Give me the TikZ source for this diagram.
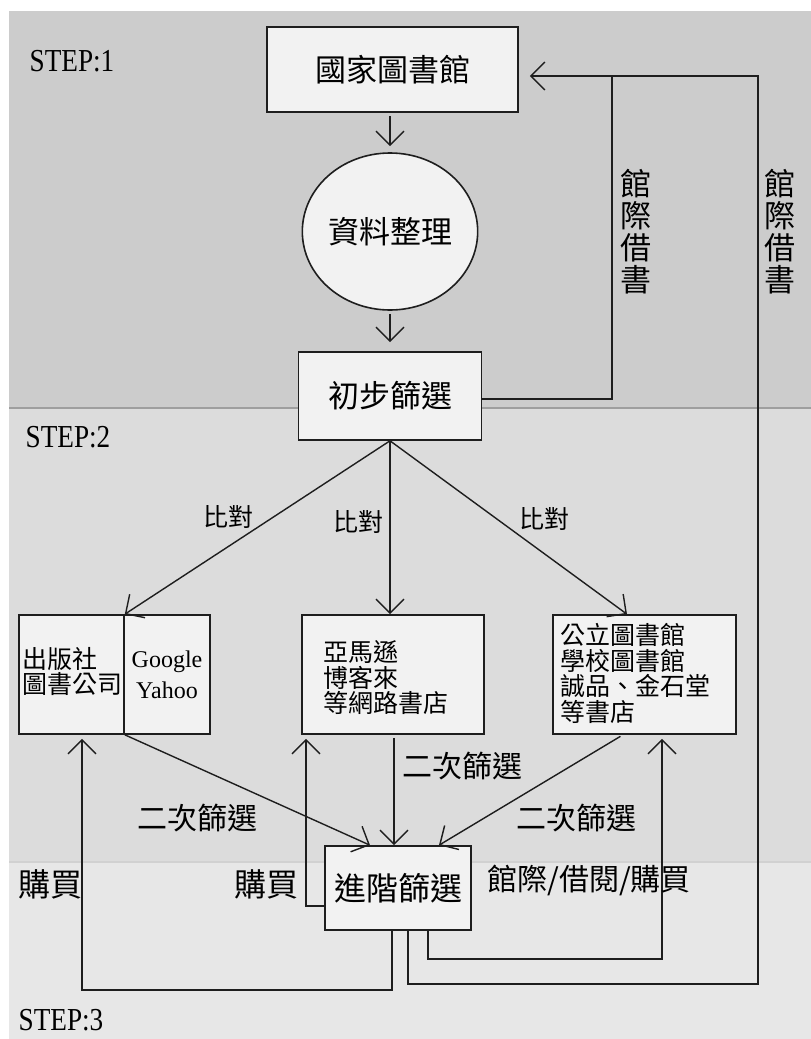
\documentclass[tikz,border=0pt]{standalone}
\usepackage{fontspec}
\setmainfont{Liberation Serif}
\newfontfamily\cjk{Noto Sans CJK TC}
\usetikzlibrary{arrows.meta,shapes.geometric}
\definecolor{bandA}{HTML}{CCCCCC}
\definecolor{bandB}{HTML}{DCDCDC}
\definecolor{bandC}{HTML}{E7E7E7}
\definecolor{boxfill}{HTML}{F2F2F2}
\definecolor{ink}{HTML}{1E1E1E}
\begin{document}
\begin{tikzpicture}[x=1pt,y=-1pt,
  box/.style={draw=ink, line width=1.6pt, fill=boxfill, inner sep=0pt},
  conn/.style={draw=ink, line width=1.4pt},
  arr/.style={conn, -{Straight Barb[length=14pt,width=28pt]}},
  big/.style={font=\cjk\fontsize{31}{32}\selectfont, inner sep=0pt},
  mid/.style={font=\cjk\fontsize{30}{32}\selectfont, inner sep=0pt},
  small/.style={font=\cjk\fontsize{25}{25.5}\selectfont, inner sep=0pt, align=left},
  steplabel/.style={font=\fontsize{32}{32}\selectfont, inner sep=0pt},
  latin/.style={font=\fontsize{24}{31}\selectfont, inner sep=0pt, align=center}]
\useasboundingbox (0,0) rectangle (811,1039);
\fill[white] (0,0) rectangle (811,1039);
\fill[bandA] (9,11) rectangle (811,408);
\fill[bandB] (9,408) rectangle (811,862);
\fill[bandC] (9,862) rectangle (811,1039);
\draw[line width=2pt, color=black!38] (9,408) -- (811,408);
\draw[line width=2pt, color=black!18] (9,862) -- (811,862);

% step labels
\node[steplabel] (s1) at (72,61) {\scalebox{0.85}[1]{STEP:1}};
\node[steplabel] (s2) at (68,437) {\scalebox{0.85}[1]{STEP:2}};
\node[steplabel] (s3) at (61,1020) {\scalebox{0.85}[1]{STEP:3}};

% step 1
\node[box, big, minimum width=251pt, minimum height=85pt] (nlib) at (392.5,69.5) {國家圖書館};
\node[box, big, ellipse, minimum width=172pt, minimum height=157pt] (data) at (390,231.5) {資料整理};
\node[box, big, minimum width=183pt, minimum height=88pt] (prim) at (390,396) {初步篩選};

\draw[arr, shorten <=3pt, shorten >=6pt] (data |- nlib.south) -- (data.north);
\draw[arr, shorten <=3pt, shorten >=9pt] (data.south) -- (data.south |- prim.north);

\coordinate (c1) at (612,76);
\coordinate (c2) at (758,76);
\coordinate (c3) at (758,984);
\draw[arr, shorten >=11pt] ([yshift=-3pt]prim.east) -| (c1) -- (c1 -| nlib.east);

\node[big, align=center] (ill1) at (636,232) {館\\際\\借\\書};
\node[big, align=center] (ill2) at (780,232) {館\\際\\借\\書};

% step 2 boxes
\node[box, minimum width=105pt, minimum height=119pt] (pubL) at (71.5,674.5) {};
\node[box, minimum width=86pt, minimum height=119pt] (pubR) at (167,674.5) {};
\node[box, minimum width=182pt, minimum height=119pt] (midb) at (393,674.5) {};
\node[box, minimum width=183pt, minimum height=119pt] (rbox) at (644.5,674.5) {};

\node[small, anchor=west] (pubLt) at (22,671.5) {出版社\\圖書公司};
\node[latin] (pubRt) at (167,675) {Google\\Yahoo};
\node[small, anchor=west] (midt) at (323,678) {亞馬遜\\博客來\\等網路書店};
\node[small, anchor=west] (rboxt) at (560,673.5) {公立圖書館\\學校圖書館\\誠品、金石堂\\等書店};

% compare arrows
\draw[arr] (prim.south) -- (pubL.north east);
\draw[arr] (prim.south) -- (prim.south |- midb.north);
\draw[arr] (prim.south) -- ([xshift=-17.5pt]rbox.north);
\node[small] (cmp1) at (228,517) {比對};
\node[small] (cmp2) at (358,522) {比對};
\node[small] (cmp3) at (544,519) {比對};

% step 3
\node[box, font=\cjk\fontsize{32}{32}\selectfont, minimum width=146pt, minimum height=84pt] (adv) at (398,888) {進階篩選};

\draw[arr] (pubL.south east) -- ([xshift=-28pt]adv.north);
\draw[arr, shorten <=3pt] ([xshift=1pt]midb.south) -- ([xshift=1pt]midb.south |- adv.north);
\draw[arr, shorten <=3pt] ([xshift=-21.5pt]rbox.south) -- ([xshift=41pt]adv.north);
\node[mid] (sec1) at (197,818) {二次篩選};
\node[mid] (sec2) at (462,766) {二次篩選};
\node[mid] (sec3) at (576,818) {二次篩選};

\coordinate (c4) at (82,990);
\coordinate (c5) at (662,959);
\draw[arr, shorten >=4pt] ([xshift=-6pt]adv.south) |- (c4) -- (c4 |- pubL.south);
\draw[arr, shorten >=4pt] ([yshift=-18pt]adv.west) -| ([xshift=-87pt]midb.south);
\draw[arr, shorten >=4pt] ([xshift=30pt]adv.south) |- (c5) -- (c5 |- rbox.south);
\draw[conn] ([xshift=10pt]adv.south) |- (c3) -- (c2) -- (c1);

\node[font=\cjk\fontsize{32}{32}\selectfont, inner sep=0pt] (buy1) at (50,884) {購買};
\node[font=\cjk\fontsize{32}{32}\selectfont, inner sep=0pt] (buy2) at (266,884) {購買};
\node[mid] (ill3) at (589,880) {館際/借閱/購買};
\end{tikzpicture}
\end{document}
